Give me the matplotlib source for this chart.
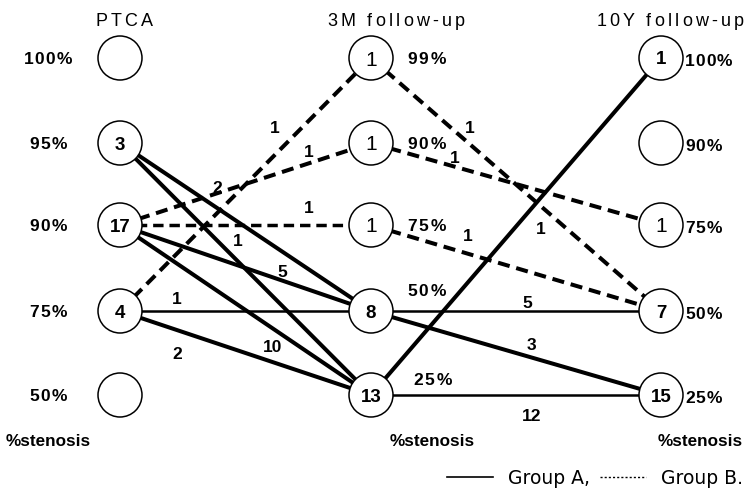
import matplotlib
matplotlib.use("Agg")
import matplotlib.pyplot as plt
from matplotlib.patches import Circle
from matplotlib.lines import Line2D
from matplotlib.font_manager import FontProperties, findfont
from matplotlib.ft2font import FT2Font

# ==========================================
# Data
# ==========================================
stages = ["PTCA", "3M follow-up", "10Y follow-up"]
ptca_levels = ["100%", "95%", "90%", "75%", "50%"]
m3_levels = ["99%", "90%", "75%", "50%", "25%"]
y10_levels = ["100%", "90%", "75%", "50%", "25%"]

# patients at each level (None = empty circle)
ptca_counts = [None, 3, 17, 4, None]
m3_counts = [1, 1, 1, 8, 13]
y10_counts = [1, None, 1, 7, 15]

# PTCA -> 3M transitions (row index of level)
ptca_src = [1, 1, 2, 2, 2, 2, 3, 3, 3]
ptca_dst = [3, 4, 1, 2, 3, 4, 0, 3, 4]
ptca_n = [2, 1, 1, 1, 5, 10, 1, 1, 2]
ptca_grp = ["A", "A", "B", "B", "A", "A", "B", "A", "A"]

# 3M -> 10Y transitions
m3_src = [0, 1, 2, 3, 3, 4, 4]
m3_dst = [3, 2, 3, 3, 4, 0, 4]
m3_n = [1, 1, 1, 5, 3, 1, 12]
m3_grp = ["B", "B", "B", "A", "A", "A", "A"]

# ==========================================
# Layout (pixels)
# ==========================================
W, H = 744, 493
stage_x = [120, 371, 661]
title_x = [124, 396, 670]
row_y = [58, 143, 225, 311, 395]
R = 22
FAM = ["Liberation Sans", "DejaVu Sans"]

# where each count label sits: fraction along the line, vertical offset
ptca_lab = [(0.386, -21), (0.47, -21), (0.753, -12), (0.753, -18), (0.645, -9),
            (0.606, 18), (0.618, -28), (0.227, -13), (0.227, 23)]
m3_lab = [(0.341, -17), (0.29, -10), (0.334, -19), (0.538, -9), (0.552, -13),
          (0.586, 30), (0.555, 20)]

fig = plt.figure(figsize=(W / 100, H / 100), dpi=100)
ax = fig.add_axes([0, 0, 1, 1])
ax.set_xlim(0, W)
ax.set_ylim(H, 0)
ax.axis("off")


def char_advance(ch, prop):
    font = FT2Font(findfont(prop))
    font.set_size(prop.get_size_in_points(), 100)
    g = font.load_char(ord(ch))
    return g.linearHoriAdvance / 65536


def spaced_text(x, y, s, gap, size, weight="normal", ha="center"):
    prop = FontProperties(family=FAM, size=size, weight=weight)
    advs = [char_advance(c, prop) for c in s]
    total = sum(advs) + gap * (len(s) - 1)
    if ha == "center":
        x0 = x - total / 2
    elif ha == "right":
        x0 = x - total
    else:
        x0 = x
    for c, a in zip(s, advs):
        ax.text(x0, y, c, ha="left", va="center_baseline", fontproperties=prop)
        x0 += a + gap


def draw_links(si, src, dst, ns, grp, labs):
    x1, x2 = stage_x[si], stage_x[si + 1]
    for s, d, n, g, (t, dy) in zip(src, dst, ns, grp, labs):
        y1, y2 = row_y[s], row_y[d]
        if g == "A":
            lw, ls = (1.8 if s == d else 2.9), "-"
        else:
            lw, ls = (2.5 if s == d else 2.9), (0, (3, 1.7))
        ax.plot([x1, x2], [y1, y2], color="black", lw=lw, ls=ls,
                solid_capstyle="butt", dash_capstyle="butt", zorder=2)
        ax.text(x1 + t * (x2 - x1), y1 + t * (y2 - y1) + dy, str(n),
                ha="center", va="center_baseline", fontsize=12.5,
                fontweight="bold", family=FAM, zorder=4)


draw_links(0, ptca_src, ptca_dst, ptca_n, ptca_grp, ptca_lab)
draw_links(1, m3_src, m3_dst, m3_n, m3_grp, m3_lab)

# nodes: counts of nodes reached only by group B are drawn in a plain face
incoming = {}
for si, (dst, grp) in enumerate([(ptca_dst, ptca_grp), (m3_dst, m3_grp)]):
    for d, g in zip(dst, grp):
        incoming.setdefault((si + 1, d), set()).add(g)

for si, counts in enumerate([ptca_counts, m3_counts, y10_counts]):
    for ri, c in enumerate(counts):
        ax.add_patch(Circle((stage_x[si], row_y[ri]), R, fc="white", ec="black",
                            lw=1.1, zorder=3))
        if c is None:
            continue
        only_b = incoming.get((si, ri)) == {"B"}
        ax.text(stage_x[si], row_y[ri], str(c), ha="center", va="center_baseline",
                fontsize=15 if only_b else 13.5,
                fontweight="normal" if only_b else "bold", family=FAM, zorder=4)

# stage titles
for x, name in zip(title_x, stages):
    spaced_text(x, 19, name, 3.2, 13)

# level labels
for ri, lab in enumerate(ptca_levels):
    spaced_text(48, row_y[ri], lab, 1.5, 12.5, "bold")
m3_dy = [0, 0, 0, -21, -16]
m3_dx = [0, 0, 0, 0, 6]
for ri, lab in enumerate(m3_levels):
    spaced_text(stage_x[1] + 36 + m3_dx[ri], row_y[ri] + m3_dy[ri], lab, 2.0,
                12.5, "bold", ha="left")
for ri, lab in enumerate(y10_levels):
    spaced_text(stage_x[2] + 24, row_y[ri] + 2, lab, 1.0, 12.5, "bold", ha="left")

for x in [48, 432, 700]:
    ax.text(x, 440, "%stenosis", ha="center", va="center_baseline", fontsize=12.3,
            fontweight="bold", family=FAM)

handles = [Line2D([], [], color="black", lw=1.2),
           Line2D([], [], color="black", lw=1.0, ls=(0, (1.5, 1.5)))]
ax.legend(handles, ["Group A,", "Group B."], loc="center right",
          bbox_to_anchor=(743, 478), bbox_transform=ax.transData, ncol=2,
          frameon=False, prop=FontProperties(family="DejaVu Sans", size=13.5),
          handlelength=2.45, handletextpad=0.8, columnspacing=0.55,
          borderpad=0, borderaxespad=0)

fig.savefig("out.png", dpi=100)
